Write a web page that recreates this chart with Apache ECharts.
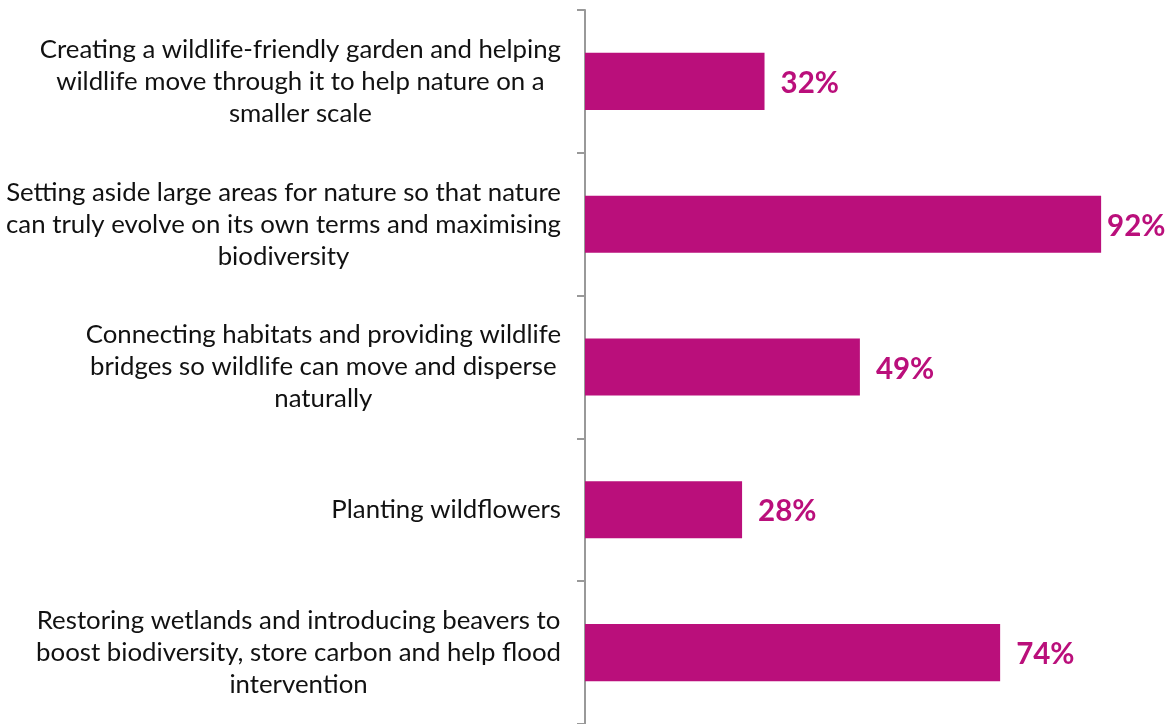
<!DOCTYPE html>
<html><head><meta charset="utf-8">
<script src="https://cdn.jsdelivr.net/npm/echarts@6/dist/echarts.min.js"></script>
<style>html,body{margin:0;padding:0;background:#fff}#c{width:1171px;height:724px}</style>
</head><body><div id="c"></div>
<script>
const categories = [
  "Creating a wildlife-friendly garden and helping\nwildlife move through it to help nature on a\nsmaller scale",
  "Setting aside large areas for nature so that nature\ncan truly evolve on its own terms and maximising\nbiodiversity",
  "Connecting habitats and providing wildlife\nbridges so wildlife can move and disperse\nnaturally",
  "Planting wildflowers",
  "Restoring wetlands and introducing beavers to\nboost biodiversity, store carbon and help flood\nintervention"
];
const values = [32, 92, 49, 28, 74];

const chart = echarts.init(document.getElementById('c'));
chart.setOption({
  animation: false,
  grid: { left: 585, right: 25, top: 10, bottom: 0, containLabel: false },
  xAxis: { type: 'value', min: 0, max: 100, show: false },
  yAxis: {
    type: 'category', data: categories, inverse: true,
    axisLine: { show: true, lineStyle: { color: '#999', width: 2 } },
    axisTick: { show: true, length: 8, lineStyle: { color: '#999', width: 2 } },
    axisLabel: {
      margin: 24, align: 'right',
      formatter: v => v.split('\n').map(l => '{c|' + l + '}').join('\n'),
      rich: { c: { align: 'center', fontFamily: 'Lato', fontSize: 25.8, lineHeight: 32, color: '#111' } }
    }
  },
  series: [{
    type: 'bar',
    data: values.map(v => v > 90 ? { value: v, label: { distance: 6 } } : v),
    barCategoryGap: '60%',
    itemStyle: { color: '#BA0F7B' },
    label: { show: true, position: 'right', distance: 16, formatter: p => p.value + '%', offset: [0, 2],
      fontFamily: 'Lato', fontWeight: 'bold', fontSize: 29.5, color: '#BA0F7B' }
  }]
});
</script></body></html>
